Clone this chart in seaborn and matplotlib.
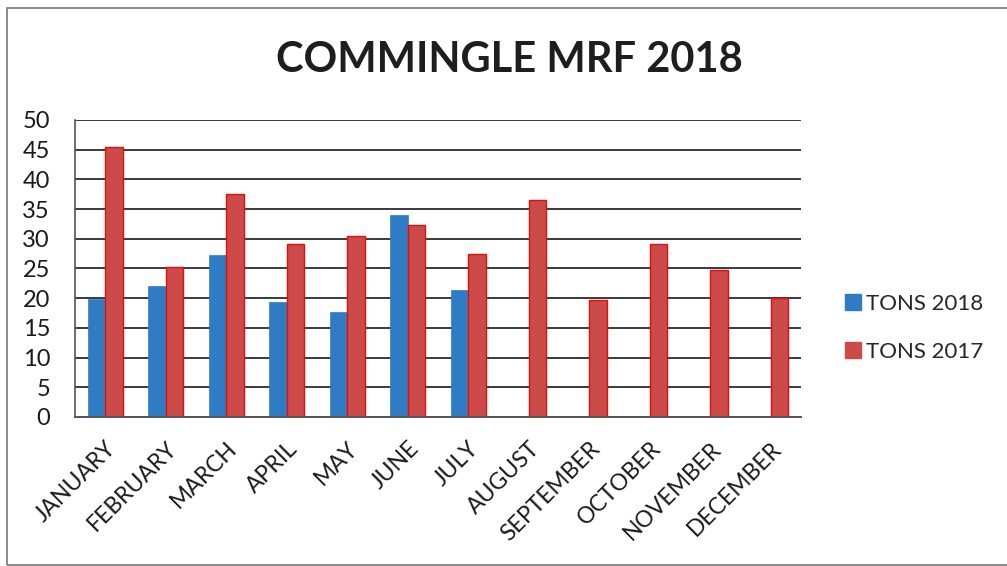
import matplotlib
matplotlib.use("Agg")
import matplotlib.pyplot as plt
import seaborn as sns
import pandas as pd
import numpy as np
from matplotlib.patches import Rectangle
from matplotlib.lines import Line2D

months = ["JANUARY", "FEBRUARY", "MARCH", "APRIL", "MAY", "JUNE", "JULY",
          "AUGUST", "SEPTEMBER", "OCTOBER", "NOVEMBER", "DECEMBER"]
tons_2018 = [19.9, 22.0, 27.3, 19.3, 17.7, 34.0, 21.3, np.nan, np.nan, np.nan, np.nan, np.nan]
tons_2017 = [45.5, 25.3, 37.6, 29.2, 30.4, 32.3, 27.4, 36.5, 19.7, 29.1, 24.7, 20.0]
series_names = ["TONS 2018", "TONS 2017"]
yticks = [0, 5, 10, 15, 20, 25, 30, 35, 40, 45, 50]
title = "COMMINGLE MRF 2018"

df = pd.DataFrame({
    "month": months * 2,
    "tons": tons_2018 + tons_2017,
    "series": [series_names[0]] * 12 + [series_names[1]] * 12,
})

sns.set_theme(style="white")
plt.rcParams["font.family"] = ["Lato", "DejaVu Sans"]

blue = "#2f7bc4"
red = "#cc4a48"

fig = plt.figure(figsize=(10.07, 5.66), dpi=100)
ax = fig.add_axes([0.0745, 0.2633, 0.7209, 0.5247])

sns.barplot(data=df, x="month", y="tons", hue="series", order=months,
            hue_order=series_names, palette=[blue, red], width=0.58,
            dodge=True, gap=0, ax=ax, legend=False, saturation=1)

for patch in ax.patches:
    fc = patch.get_facecolor()
    if fc[0] > 0.5:
        patch.set_edgecolor("#e01010")
        patch.set_linewidth(1.0)
    else:
        patch.set_edgecolor(blue)
        patch.set_linewidth(0.5)

ax.set_ylim(0, 50)
ax.set_xlim(-0.5, 11.5)
ax.set_yticks(yticks)
ax.set_yticklabels([str(v) for v in yticks], fontsize=17, color="#1a1a1a")
ax.tick_params(axis="y", length=0, pad=18)
ax.tick_params(axis="x", length=0, pad=15)
ax.set_xticks(range(len(months)))
ax.set_xticklabels(months, rotation=45, ha="right", rotation_mode="anchor",
                   fontsize=16.5, color="#1a1a1a")
ax.set_xlabel("")
ax.set_ylabel("")
ax.yaxis.grid(True, color="#3a3a3a", linewidth=1.4)
ax.set_axisbelow(True)
for s in ["top", "right"]:
    ax.spines[s].set_visible(False)
ax.spines["left"].set_color("#555555")
ax.spines["left"].set_linewidth(1.2)
ax.spines["bottom"].set_color("#555555")
ax.spines["bottom"].set_linewidth(1.4)

fig.text(0.506, 1 - 60 / 566, title, ha="center", va="center",
         fontsize=30, fontweight="bold", color="#1e1e1e")

handles = [Line2D([0], [0], marker="s", linestyle="none", markersize=11,
                  markerfacecolor=c, markeredgecolor=c) for c in [blue, red]]
leg = fig.legend(handles, series_names, loc="center left",
                 bbox_to_anchor=(824 / 1007, 1 - 328 / 566), frameon=False,
                 fontsize=16, handletextpad=0.2, labelspacing=1.25,
                 handlelength=0.8)

# chart border
fig.patches.append(Rectangle((7 / 1007, 1 / 566), 1.2, 1 - 9 / 566,
                             transform=fig.transFigure, fill=False,
                             edgecolor="#777777", linewidth=1.2))

fig.savefig("out.png", dpi=100, facecolor="white")
